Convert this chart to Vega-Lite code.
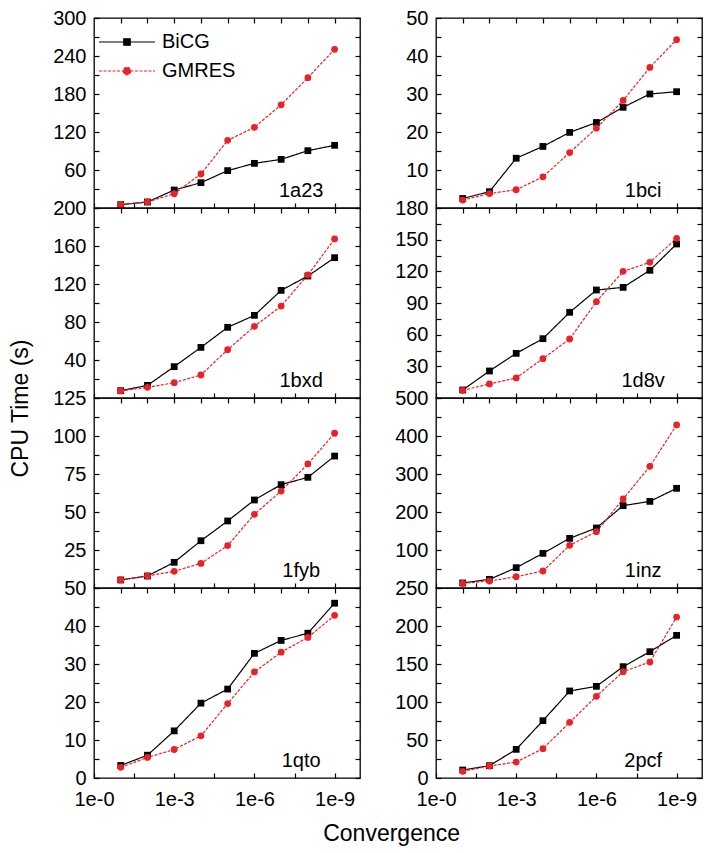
{
  "$schema": "https://vega.github.io/schema/vega-lite/v6.json",
  "padding": {"left": 9, "top": 7, "right": 5, "bottom": 5},
  "background": "#ffffff",
  "config": {
    "font": "Liberation Sans",
    "view": {"stroke": "#000000", "strokeWidth": 1.3},
    "axis": {"grid": false, "domain": false, "tickColor": "#000000", "tickWidth": 1.2, "labelFont": "Liberation Sans", "labelFontSize": 20, "labelColor": "#000000", "labelOverlap": false, "labelFlush": false, "labelBound": false},
    "text": {"font": "Liberation Sans"}
  },
  "data": {"values": [
    {"p":"1a23","m":"BiCG","x":1,"t":5.3},{"p":"1a23","m":"BiCG","x":2,"t":9.5},{"p":"1a23","m":"BiCG","x":3,"t":28.4},{"p":"1a23","m":"BiCG","x":4,"t":40},{"p":"1a23","m":"BiCG","x":5,"t":59},{"p":"1a23","m":"BiCG","x":6,"t":70.5},{"p":"1a23","m":"BiCG","x":7,"t":76.8},{"p":"1a23","m":"BiCG","x":8,"t":90.5},{"p":"1a23","m":"BiCG","x":9,"t":99},
    {"p":"1a23","m":"GMRES","x":1,"t":5.3},{"p":"1a23","m":"GMRES","x":2,"t":9.5},{"p":"1a23","m":"GMRES","x":3,"t":22.6},{"p":"1a23","m":"GMRES","x":4,"t":53.7},{"p":"1a23","m":"GMRES","x":5,"t":106.8},{"p":"1a23","m":"GMRES","x":6,"t":127.4},{"p":"1a23","m":"GMRES","x":7,"t":163},{"p":"1a23","m":"GMRES","x":8,"t":205.8},{"p":"1a23","m":"GMRES","x":9,"t":250.5},
    {"p":"1bci","m":"BiCG","x":1,"t":2.5},{"p":"1bci","m":"BiCG","x":2,"t":4.3},{"p":"1bci","m":"BiCG","x":3,"t":13.1},{"p":"1bci","m":"BiCG","x":4,"t":16.2},{"p":"1bci","m":"BiCG","x":5,"t":19.9},{"p":"1bci","m":"BiCG","x":6,"t":22.5},{"p":"1bci","m":"BiCG","x":7,"t":26.5},{"p":"1bci","m":"BiCG","x":8,"t":30},{"p":"1bci","m":"BiCG","x":9,"t":30.6},
    {"p":"1bci","m":"GMRES","x":1,"t":2.1},{"p":"1bci","m":"GMRES","x":2,"t":3.8},{"p":"1bci","m":"GMRES","x":3,"t":4.8},{"p":"1bci","m":"GMRES","x":4,"t":8.2},{"p":"1bci","m":"GMRES","x":5,"t":14.6},{"p":"1bci","m":"GMRES","x":6,"t":21},{"p":"1bci","m":"GMRES","x":7,"t":28.3},{"p":"1bci","m":"GMRES","x":8,"t":37},{"p":"1bci","m":"GMRES","x":9,"t":44.3},
    {"p":"1bxd","m":"BiCG","x":1,"t":7.7},{"p":"1bxd","m":"BiCG","x":2,"t":13.3},{"p":"1bxd","m":"BiCG","x":3,"t":33},{"p":"1bxd","m":"BiCG","x":4,"t":53.3},{"p":"1bxd","m":"BiCG","x":5,"t":74.4},{"p":"1bxd","m":"BiCG","x":6,"t":87},{"p":"1bxd","m":"BiCG","x":7,"t":113.3},{"p":"1bxd","m":"BiCG","x":8,"t":128.4},{"p":"1bxd","m":"BiCG","x":9,"t":147.7},
    {"p":"1bxd","m":"GMRES","x":1,"t":7.4},{"p":"1bxd","m":"GMRES","x":2,"t":11.2},{"p":"1bxd","m":"GMRES","x":3,"t":16.1},{"p":"1bxd","m":"GMRES","x":4,"t":24.2},{"p":"1bxd","m":"GMRES","x":5,"t":50.9},{"p":"1bxd","m":"GMRES","x":6,"t":75.4},{"p":"1bxd","m":"GMRES","x":7,"t":96.8},{"p":"1bxd","m":"GMRES","x":8,"t":129.5},{"p":"1bxd","m":"GMRES","x":9,"t":167.4},
    {"p":"1d8v","m":"BiCG","x":1,"t":7.6},{"p":"1d8v","m":"BiCG","x":2,"t":25.6},{"p":"1d8v","m":"BiCG","x":3,"t":42.3},{"p":"1d8v","m":"BiCG","x":4,"t":56.2},{"p":"1d8v","m":"BiCG","x":5,"t":81.2},{"p":"1d8v","m":"BiCG","x":6,"t":102.3},{"p":"1d8v","m":"BiCG","x":7,"t":104.8},{"p":"1d8v","m":"BiCG","x":8,"t":121},{"p":"1d8v","m":"BiCG","x":9,"t":145.9},
    {"p":"1d8v","m":"GMRES","x":1,"t":7.3},{"p":"1d8v","m":"GMRES","x":2,"t":13.3},{"p":"1d8v","m":"GMRES","x":3,"t":19},{"p":"1d8v","m":"GMRES","x":4,"t":37.3},{"p":"1d8v","m":"GMRES","x":5,"t":55.9},{"p":"1d8v","m":"GMRES","x":6,"t":91.3},{"p":"1d8v","m":"GMRES","x":7,"t":120},{"p":"1d8v","m":"GMRES","x":8,"t":128.5},{"p":"1d8v","m":"GMRES","x":9,"t":151.3},
    {"p":"1fyb","m":"BiCG","x":1,"t":5.3},{"p":"1fyb","m":"BiCG","x":2,"t":7.9},{"p":"1fyb","m":"BiCG","x":3,"t":16.9},{"p":"1fyb","m":"BiCG","x":4,"t":31.1},{"p":"1fyb","m":"BiCG","x":5,"t":44.1},{"p":"1fyb","m":"BiCG","x":6,"t":57.9},{"p":"1fyb","m":"BiCG","x":7,"t":68},{"p":"1fyb","m":"BiCG","x":8,"t":72.8},{"p":"1fyb","m":"BiCG","x":9,"t":86.8},
    {"p":"1fyb","m":"GMRES","x":1,"t":5.3},{"p":"1fyb","m":"GMRES","x":2,"t":7.9},{"p":"1fyb","m":"GMRES","x":3,"t":11},{"p":"1fyb","m":"GMRES","x":4,"t":16.2},{"p":"1fyb","m":"GMRES","x":5,"t":27.9},{"p":"1fyb","m":"GMRES","x":6,"t":48.5},{"p":"1fyb","m":"GMRES","x":7,"t":63.8},{"p":"1fyb","m":"GMRES","x":8,"t":81.6},{"p":"1fyb","m":"GMRES","x":9,"t":101.8},
    {"p":"1inz","m":"BiCG","x":1,"t":13.2},{"p":"1inz","m":"BiCG","x":2,"t":22.8},{"p":"1inz","m":"BiCG","x":3,"t":53.5},{"p":"1inz","m":"BiCG","x":4,"t":91.2},{"p":"1inz","m":"BiCG","x":5,"t":130.7},{"p":"1inz","m":"BiCG","x":6,"t":157.9},{"p":"1inz","m":"BiCG","x":7,"t":216.7},{"p":"1inz","m":"BiCG","x":8,"t":228},{"p":"1inz","m":"BiCG","x":9,"t":262.3},
    {"p":"1inz","m":"GMRES","x":1,"t":12.3},{"p":"1inz","m":"GMRES","x":2,"t":18.4},{"p":"1inz","m":"GMRES","x":3,"t":29.8},{"p":"1inz","m":"GMRES","x":4,"t":44.7},{"p":"1inz","m":"GMRES","x":5,"t":112.3},{"p":"1inz","m":"GMRES","x":6,"t":148.2},{"p":"1inz","m":"GMRES","x":7,"t":234.2},{"p":"1inz","m":"GMRES","x":8,"t":320.2},{"p":"1inz","m":"GMRES","x":9,"t":429},
    {"p":"1qto","m":"BiCG","x":1,"t":3.3},{"p":"1qto","m":"BiCG","x":2,"t":6},{"p":"1qto","m":"BiCG","x":3,"t":12.4},{"p":"1qto","m":"BiCG","x":4,"t":19.7},{"p":"1qto","m":"BiCG","x":5,"t":23.4},{"p":"1qto","m":"BiCG","x":6,"t":32.8},{"p":"1qto","m":"BiCG","x":7,"t":36.2},{"p":"1qto","m":"BiCG","x":8,"t":38.1},{"p":"1qto","m":"BiCG","x":9,"t":46},
    {"p":"1qto","m":"GMRES","x":1,"t":2.8},{"p":"1qto","m":"GMRES","x":2,"t":5.4},{"p":"1qto","m":"GMRES","x":3,"t":7.5},{"p":"1qto","m":"GMRES","x":4,"t":11.1},{"p":"1qto","m":"GMRES","x":5,"t":19.6},{"p":"1qto","m":"GMRES","x":6,"t":27.9},{"p":"1qto","m":"GMRES","x":7,"t":33.1},{"p":"1qto","m":"GMRES","x":8,"t":37},{"p":"1qto","m":"GMRES","x":9,"t":42.8},
    {"p":"2pcf","m":"BiCG","x":1,"t":10.5},{"p":"2pcf","m":"BiCG","x":2,"t":16.2},{"p":"2pcf","m":"BiCG","x":3,"t":37.7},{"p":"2pcf","m":"BiCG","x":4,"t":75.4},{"p":"2pcf","m":"BiCG","x":5,"t":114.5},{"p":"2pcf","m":"BiCG","x":6,"t":120.6},{"p":"2pcf","m":"BiCG","x":7,"t":146.5},{"p":"2pcf","m":"BiCG","x":8,"t":166.2},{"p":"2pcf","m":"BiCG","x":9,"t":187.7},
    {"p":"2pcf","m":"GMRES","x":1,"t":8.8},{"p":"2pcf","m":"GMRES","x":2,"t":15.8},{"p":"2pcf","m":"GMRES","x":3,"t":21},{"p":"2pcf","m":"GMRES","x":4,"t":38.6},{"p":"2pcf","m":"GMRES","x":5,"t":73.2},{"p":"2pcf","m":"GMRES","x":6,"t":107.5},{"p":"2pcf","m":"GMRES","x":7,"t":139.9},{"p":"2pcf","m":"GMRES","x":8,"t":152.6},{"p":"2pcf","m":"GMRES","x":9,"t":211.8}
  ]},
  "title": {"text": "Convergence", "orient": "bottom", "anchor": "middle", "fontSize": 23, "fontWeight": "normal", "font": "Liberation Sans", "color": "#000000", "offset": 13, "dx": 35},
  "vconcat": [
    {
      "title": {"text": "CPU Time (s)", "orient": "left", "anchor": "middle", "fontSize": 23, "fontWeight": "normal", "font": "Liberation Sans", "color": "#000000", "offset": 19},
      "columns": 2,
      "spacing": {"row": 0, "column": 76},
      "bounds": "flush",
      "resolve": {"scale": {"color": "independent", "strokeDash": "independent", "shape": "independent"}},
      "concat": [
        {
          "width": 266, "height": 190,
          "transform": [{"filter": "datum.p == '1a23'"}],
          "layer": [
            {"mark": {"type": "line", "strokeWidth": 1.2},
             "encoding": {
               "x": {"field": "x", "type": "quantitative", "scale": {"domain": [0, 9.95], "nice": false, "zero": false}, "axis": {"orient": "bottom", "values": [0,1.5,3,4.5,6,7.5,9], "labels": false, "tickSize": -5, "title": null}},
               "y": {"field": "t", "type": "quantitative", "scale": {"domain": [0, 300], "nice": false}, "axis": {"orient": "left", "values": [0,30,60,90,120,150,180,210,240,270,300], "tickSize": -5, "labelPadding": 13, "labelExpr": "datum.value % 60 == 0 && datum.value > 0 ? '' + datum.value : ''", "title": null}},
               "color": {"field": "m", "type": "nominal", "scale": {"domain": ["BiCG","GMRES"], "range": ["#000000","#ea2127"]},
                 "legend": {"title": null, "orient": "none", "legendX": 18, "legendY": 9, "padding": 0, "symbolSize": 784, "symbolStrokeWidth": 1.2, "labelFontSize": 20, "labelFont": "Liberation Sans", "labelColor": "#000000", "labelOffset": 20, "rowPadding": 4,
                   "encode": {"symbols": {"update": {
                     "shape": {"signal": "datum.value == 'BiCG' ? 'M-2,0H2M-0.23,-0.23H0.23V0.23H-0.23Z' : 'M-2,0H2M0.27,0A0.27,0.27 0 1,1 -0.27,0A0.27,0.27 0 1,1 0.27,0'"},
                     "strokeDash": {"signal": "datum.value == 'GMRES' ? [3,1.5] : [1,0]"},
                     "fill": {"signal": "datum.value == 'BiCG' ? '#000000' : '#ea2127'"},
                     "stroke": {"signal": "datum.value == 'BiCG' ? '#000000' : '#ea2127'"},
                     "opacity": {"value": 1}, "fillOpacity": {"value": 1}, "strokeOpacity": {"value": 1}
                   }}}}},
               "strokeDash": {"field": "m", "type": "nominal", "scale": {"domain": ["BiCG","GMRES"], "range": [[1,0],[3,1.5]]}, "legend": null}
             }},
            {"transform": [{"filter": "datum.m == 'BiCG'"}],
             "mark": {"type": "square", "filled": true, "opacity": 1, "size": 46},
             "encoding": {
               "x": {"field": "x", "type": "quantitative", "axis": {"orient": "top", "values": [1,2,3,4,5,6,7,8,9], "labels": false, "tickSize": -5, "title": null}},
               "y": {"field": "t", "type": "quantitative", "axis": {"orient": "right", "values": [0,30,60,90,120,150,180,210,240,270,300], "labels": false, "tickSize": -5, "title": null}},
               "color": {"field": "m", "type": "nominal", "legend": null}
             }},
            {"transform": [{"filter": "datum.m == 'GMRES'"}],
             "mark": {"type": "circle", "opacity": 1, "size": 46},
             "encoding": {
               "x": {"field": "x", "type": "quantitative", "axis": null},
               "y": {"field": "t", "type": "quantitative", "axis": null},
               "color": {"field": "m", "type": "nominal", "legend": null}
             }},
            {"transform": [{"filter": "datum.x == 9 && datum.m == 'BiCG'"}],
             "mark": {"type": "text", "fontSize": 20, "align": "center", "baseline": "alphabetic", "color": "#000000"},
             "encoding": {"x": {"datum": 7.75, "axis": null}, "y": {"datum": 18, "axis": null}, "text": {"field": "p"}}}
          ],
          "resolve": {"axis": {"x": "independent", "y": "independent"}}
        },
        {
          "width": 266, "height": 190,
          "transform": [{"filter": "datum.p == '1bci'"}],
          "layer": [
            {"mark": {"type": "line", "strokeWidth": 1.2},
             "encoding": {
               "x": {"field": "x", "type": "quantitative", "scale": {"domain": [0, 9.95], "nice": false, "zero": false}, "axis": {"orient": "bottom", "values": [0,1.5,3,4.5,6,7.5,9], "labels": false, "tickSize": -5, "title": null}},
               "y": {"field": "t", "type": "quantitative", "scale": {"domain": [0, 50], "nice": false}, "axis": {"orient": "left", "values": [0,5,10,15,20,25,30,35,40,45,50], "tickSize": -5, "labelPadding": 13, "labelExpr": "datum.value % 10 == 0 && datum.value > 0 ? '' + datum.value : ''", "title": null}},
               "color": {"field": "m", "type": "nominal", "scale": {"domain": ["BiCG","GMRES"], "range": ["#000000","#ea2127"]}, "legend": null},
               "strokeDash": {"field": "m", "type": "nominal", "scale": {"domain": ["BiCG","GMRES"], "range": [[1,0],[3,1.5]]}, "legend": null}
             }},
            {"mark": {"type": "point", "filled": true, "opacity": 1, "size": 46},
             "encoding": {
               "x": {"field": "x", "type": "quantitative", "axis": {"orient": "top", "values": [1,2,3,4,5,6,7,8,9], "labels": false, "tickSize": -5, "title": null}},
               "y": {"field": "t", "type": "quantitative", "axis": {"orient": "right", "values": [0,5,10,15,20,25,30,35,40,45,50], "labels": false, "tickSize": -5, "title": null}},
               "color": {"field": "m", "type": "nominal", "legend": null},
               "shape": {"field": "m", "type": "nominal", "scale": {"domain": ["BiCG","GMRES"], "range": ["square","circle"]}, "legend": null}
             }},
            {"transform": [{"filter": "datum.x == 9 && datum.m == 'BiCG'"}],
             "mark": {"type": "text", "fontSize": 20, "align": "center", "baseline": "alphabetic", "color": "#000000"},
             "encoding": {"x": {"datum": 7.75, "axis": null}, "y": {"datum": 3, "axis": null}, "text": {"field": "p"}}}
          ],
          "resolve": {"axis": {"x": "independent", "y": "independent"}}
        },
        {
          "width": 266, "height": 190,
          "transform": [{"filter": "datum.p == '1bxd'"}],
          "layer": [
            {"mark": {"type": "line", "strokeWidth": 1.2},
             "encoding": {
               "x": {"field": "x", "type": "quantitative", "scale": {"domain": [0, 9.95], "nice": false, "zero": false}, "axis": {"orient": "bottom", "values": [0,1.5,3,4.5,6,7.5,9], "labels": false, "tickSize": -5, "title": null}},
               "y": {"field": "t", "type": "quantitative", "scale": {"domain": [0, 200], "nice": false}, "axis": {"orient": "left", "values": [0,20,40,60,80,100,120,140,160,180,200], "tickSize": -5, "labelPadding": 13, "labelExpr": "datum.value % 40 == 0 && datum.value > 0 ? '' + datum.value : ''", "title": null}},
               "color": {"field": "m", "type": "nominal", "scale": {"domain": ["BiCG","GMRES"], "range": ["#000000","#ea2127"]}, "legend": null},
               "strokeDash": {"field": "m", "type": "nominal", "scale": {"domain": ["BiCG","GMRES"], "range": [[1,0],[3,1.5]]}, "legend": null}
             }},
            {"mark": {"type": "point", "filled": true, "opacity": 1, "size": 46},
             "encoding": {
               "x": {"field": "x", "type": "quantitative", "axis": {"orient": "top", "values": [1,2,3,4,5,6,7,8,9], "labels": false, "tickSize": -5, "title": null}},
               "y": {"field": "t", "type": "quantitative", "axis": {"orient": "right", "values": [0,20,40,60,80,100,120,140,160,180,200], "labels": false, "tickSize": -5, "title": null}},
               "color": {"field": "m", "type": "nominal", "legend": null},
               "shape": {"field": "m", "type": "nominal", "scale": {"domain": ["BiCG","GMRES"], "range": ["square","circle"]}, "legend": null}
             }},
            {"transform": [{"filter": "datum.x == 9 && datum.m == 'BiCG'"}],
             "mark": {"type": "text", "fontSize": 20, "align": "center", "baseline": "alphabetic", "color": "#000000"},
             "encoding": {"x": {"datum": 7.75, "axis": null}, "y": {"datum": 12, "axis": null}, "text": {"field": "p"}}}
          ],
          "resolve": {"axis": {"x": "independent", "y": "independent"}}
        },
        {
          "width": 266, "height": 190,
          "transform": [{"filter": "datum.p == '1d8v'"}],
          "layer": [
            {"mark": {"type": "line", "strokeWidth": 1.2},
             "encoding": {
               "x": {"field": "x", "type": "quantitative", "scale": {"domain": [0, 9.95], "nice": false, "zero": false}, "axis": {"orient": "bottom", "values": [0,1.5,3,4.5,6,7.5,9], "labels": false, "tickSize": -5, "title": null}},
               "y": {"field": "t", "type": "quantitative", "scale": {"domain": [0, 180], "nice": false}, "axis": {"orient": "left", "values": [0,15,30,45,60,75,90,105,120,135,150,165,180], "tickSize": -5, "labelPadding": 13, "labelExpr": "datum.value % 30 == 0 && datum.value > 0 ? '' + datum.value : ''", "title": null}},
               "color": {"field": "m", "type": "nominal", "scale": {"domain": ["BiCG","GMRES"], "range": ["#000000","#ea2127"]}, "legend": null},
               "strokeDash": {"field": "m", "type": "nominal", "scale": {"domain": ["BiCG","GMRES"], "range": [[1,0],[3,1.5]]}, "legend": null}
             }},
            {"mark": {"type": "point", "filled": true, "opacity": 1, "size": 46},
             "encoding": {
               "x": {"field": "x", "type": "quantitative", "axis": {"orient": "top", "values": [1,2,3,4,5,6,7,8,9], "labels": false, "tickSize": -5, "title": null}},
               "y": {"field": "t", "type": "quantitative", "axis": {"orient": "right", "values": [0,15,30,45,60,75,90,105,120,135,150,165,180], "labels": false, "tickSize": -5, "title": null}},
               "color": {"field": "m", "type": "nominal", "legend": null},
               "shape": {"field": "m", "type": "nominal", "scale": {"domain": ["BiCG","GMRES"], "range": ["square","circle"]}, "legend": null}
             }},
            {"transform": [{"filter": "datum.x == 9 && datum.m == 'BiCG'"}],
             "mark": {"type": "text", "fontSize": 20, "align": "center", "baseline": "alphabetic", "color": "#000000"},
             "encoding": {"x": {"datum": 7.75, "axis": null}, "y": {"datum": 10.8, "axis": null}, "text": {"field": "p"}}}
          ],
          "resolve": {"axis": {"x": "independent", "y": "independent"}}
        },
        {
          "width": 266, "height": 190,
          "transform": [{"filter": "datum.p == '1fyb'"}],
          "layer": [
            {"mark": {"type": "line", "strokeWidth": 1.2},
             "encoding": {
               "x": {"field": "x", "type": "quantitative", "scale": {"domain": [0, 9.95], "nice": false, "zero": false}, "axis": {"orient": "bottom", "values": [0,1.5,3,4.5,6,7.5,9], "labels": false, "tickSize": -5, "title": null}},
               "y": {"field": "t", "type": "quantitative", "scale": {"domain": [0, 125], "nice": false}, "axis": {"orient": "left", "values": [0,12.5,25,37.5,50,62.5,75,87.5,100,112.5,125], "tickSize": -5, "labelPadding": 13, "labelExpr": "datum.value % 25 == 0 && datum.value > 0 ? '' + datum.value : ''", "title": null}},
               "color": {"field": "m", "type": "nominal", "scale": {"domain": ["BiCG","GMRES"], "range": ["#000000","#ea2127"]}, "legend": null},
               "strokeDash": {"field": "m", "type": "nominal", "scale": {"domain": ["BiCG","GMRES"], "range": [[1,0],[3,1.5]]}, "legend": null}
             }},
            {"mark": {"type": "point", "filled": true, "opacity": 1, "size": 46},
             "encoding": {
               "x": {"field": "x", "type": "quantitative", "axis": {"orient": "top", "values": [1,2,3,4,5,6,7,8,9], "labels": false, "tickSize": -5, "title": null}},
               "y": {"field": "t", "type": "quantitative", "axis": {"orient": "right", "values": [0,12.5,25,37.5,50,62.5,75,87.5,100,112.5,125], "labels": false, "tickSize": -5, "title": null}},
               "color": {"field": "m", "type": "nominal", "legend": null},
               "shape": {"field": "m", "type": "nominal", "scale": {"domain": ["BiCG","GMRES"], "range": ["square","circle"]}, "legend": null}
             }},
            {"transform": [{"filter": "datum.x == 9 && datum.m == 'BiCG'"}],
             "mark": {"type": "text", "fontSize": 20, "align": "center", "baseline": "alphabetic", "color": "#000000"},
             "encoding": {"x": {"datum": 7.75, "axis": null}, "y": {"datum": 7.5, "axis": null}, "text": {"field": "p"}}}
          ],
          "resolve": {"axis": {"x": "independent", "y": "independent"}}
        },
        {
          "width": 266, "height": 190,
          "transform": [{"filter": "datum.p == '1inz'"}],
          "layer": [
            {"mark": {"type": "line", "strokeWidth": 1.2},
             "encoding": {
               "x": {"field": "x", "type": "quantitative", "scale": {"domain": [0, 9.95], "nice": false, "zero": false}, "axis": {"orient": "bottom", "values": [0,1.5,3,4.5,6,7.5,9], "labels": false, "tickSize": -5, "title": null}},
               "y": {"field": "t", "type": "quantitative", "scale": {"domain": [0, 500], "nice": false}, "axis": {"orient": "left", "values": [0,50,100,150,200,250,300,350,400,450,500], "tickSize": -5, "labelPadding": 13, "labelExpr": "datum.value % 100 == 0 && datum.value > 0 ? '' + datum.value : ''", "title": null}},
               "color": {"field": "m", "type": "nominal", "scale": {"domain": ["BiCG","GMRES"], "range": ["#000000","#ea2127"]}, "legend": null},
               "strokeDash": {"field": "m", "type": "nominal", "scale": {"domain": ["BiCG","GMRES"], "range": [[1,0],[3,1.5]]}, "legend": null}
             }},
            {"mark": {"type": "point", "filled": true, "opacity": 1, "size": 46},
             "encoding": {
               "x": {"field": "x", "type": "quantitative", "axis": {"orient": "top", "values": [1,2,3,4,5,6,7,8,9], "labels": false, "tickSize": -5, "title": null}},
               "y": {"field": "t", "type": "quantitative", "axis": {"orient": "right", "values": [0,50,100,150,200,250,300,350,400,450,500], "labels": false, "tickSize": -5, "title": null}},
               "color": {"field": "m", "type": "nominal", "legend": null},
               "shape": {"field": "m", "type": "nominal", "scale": {"domain": ["BiCG","GMRES"], "range": ["square","circle"]}, "legend": null}
             }},
            {"transform": [{"filter": "datum.x == 9 && datum.m == 'BiCG'"}],
             "mark": {"type": "text", "fontSize": 20, "align": "center", "baseline": "alphabetic", "color": "#000000"},
             "encoding": {"x": {"datum": 7.75, "axis": null}, "y": {"datum": 30, "axis": null}, "text": {"field": "p"}}}
          ],
          "resolve": {"axis": {"x": "independent", "y": "independent"}}
        },
        {
          "width": 266, "height": 190,
          "transform": [{"filter": "datum.p == '1qto'"}],
          "layer": [
            {"mark": {"type": "line", "strokeWidth": 1.2},
             "encoding": {
               "x": {"field": "x", "type": "quantitative", "scale": {"domain": [0, 9.95], "nice": false, "zero": false}, "axis": {"orient": "bottom", "values": [0,1.5,3,4.5,6,7.5,9], "tickSize": -5, "labelPadding": 16, "labelExpr": "datum.value % 3 == 0 ? '1e-' + datum.value : ''", "title": null}},
               "y": {"field": "t", "type": "quantitative", "scale": {"domain": [0, 50], "nice": false}, "axis": {"orient": "left", "values": [0,5,10,15,20,25,30,35,40,45,50], "tickSize": -5, "labelPadding": 13, "labelExpr": "datum.value % 10 == 0 ? '' + datum.value : ''", "title": null}},
               "color": {"field": "m", "type": "nominal", "scale": {"domain": ["BiCG","GMRES"], "range": ["#000000","#ea2127"]}, "legend": null},
               "strokeDash": {"field": "m", "type": "nominal", "scale": {"domain": ["BiCG","GMRES"], "range": [[1,0],[3,1.5]]}, "legend": null}
             }},
            {"mark": {"type": "point", "filled": true, "opacity": 1, "size": 46},
             "encoding": {
               "x": {"field": "x", "type": "quantitative", "axis": {"orient": "top", "values": [1,2,3,4,5,6,7,8,9], "labels": false, "tickSize": -5, "title": null}},
               "y": {"field": "t", "type": "quantitative", "axis": {"orient": "right", "values": [0,5,10,15,20,25,30,35,40,45,50], "labels": false, "tickSize": -5, "title": null}},
               "color": {"field": "m", "type": "nominal", "legend": null},
               "shape": {"field": "m", "type": "nominal", "scale": {"domain": ["BiCG","GMRES"], "range": ["square","circle"]}, "legend": null}
             }},
            {"transform": [{"filter": "datum.x == 9 && datum.m == 'BiCG'"}],
             "mark": {"type": "text", "fontSize": 20, "align": "center", "baseline": "alphabetic", "color": "#000000"},
             "encoding": {"x": {"datum": 7.75, "axis": null}, "y": {"datum": 3, "axis": null}, "text": {"field": "p"}}}
          ],
          "resolve": {"axis": {"x": "independent", "y": "independent"}}
        },
        {
          "width": 266, "height": 190,
          "transform": [{"filter": "datum.p == '2pcf'"}],
          "layer": [
            {"mark": {"type": "line", "strokeWidth": 1.2},
             "encoding": {
               "x": {"field": "x", "type": "quantitative", "scale": {"domain": [0, 9.95], "nice": false, "zero": false}, "axis": {"orient": "bottom", "values": [0,1.5,3,4.5,6,7.5,9], "tickSize": -5, "labelPadding": 16, "labelExpr": "datum.value % 3 == 0 ? '1e-' + datum.value : ''", "title": null}},
               "y": {"field": "t", "type": "quantitative", "scale": {"domain": [0, 250], "nice": false}, "axis": {"orient": "left", "values": [0,25,50,75,100,125,150,175,200,225,250], "tickSize": -5, "labelPadding": 13, "labelExpr": "datum.value % 50 == 0 ? '' + datum.value : ''", "title": null}},
               "color": {"field": "m", "type": "nominal", "scale": {"domain": ["BiCG","GMRES"], "range": ["#000000","#ea2127"]}, "legend": null},
               "strokeDash": {"field": "m", "type": "nominal", "scale": {"domain": ["BiCG","GMRES"], "range": [[1,0],[3,1.5]]}, "legend": null}
             }},
            {"mark": {"type": "point", "filled": true, "opacity": 1, "size": 46},
             "encoding": {
               "x": {"field": "x", "type": "quantitative", "axis": {"orient": "top", "values": [1,2,3,4,5,6,7,8,9], "labels": false, "tickSize": -5, "title": null}},
               "y": {"field": "t", "type": "quantitative", "axis": {"orient": "right", "values": [0,25,50,75,100,125,150,175,200,225,250], "labels": false, "tickSize": -5, "title": null}},
               "color": {"field": "m", "type": "nominal", "legend": null},
               "shape": {"field": "m", "type": "nominal", "scale": {"domain": ["BiCG","GMRES"], "range": ["square","circle"]}, "legend": null}
             }},
            {"transform": [{"filter": "datum.x == 9 && datum.m == 'BiCG'"}],
             "mark": {"type": "text", "fontSize": 20, "align": "center", "baseline": "alphabetic", "color": "#000000"},
             "encoding": {"x": {"datum": 7.75, "axis": null}, "y": {"datum": 15, "axis": null}, "text": {"field": "p"}}}
          ],
          "resolve": {"axis": {"x": "independent", "y": "independent"}}
        }
      ]
    }
  ]
}
